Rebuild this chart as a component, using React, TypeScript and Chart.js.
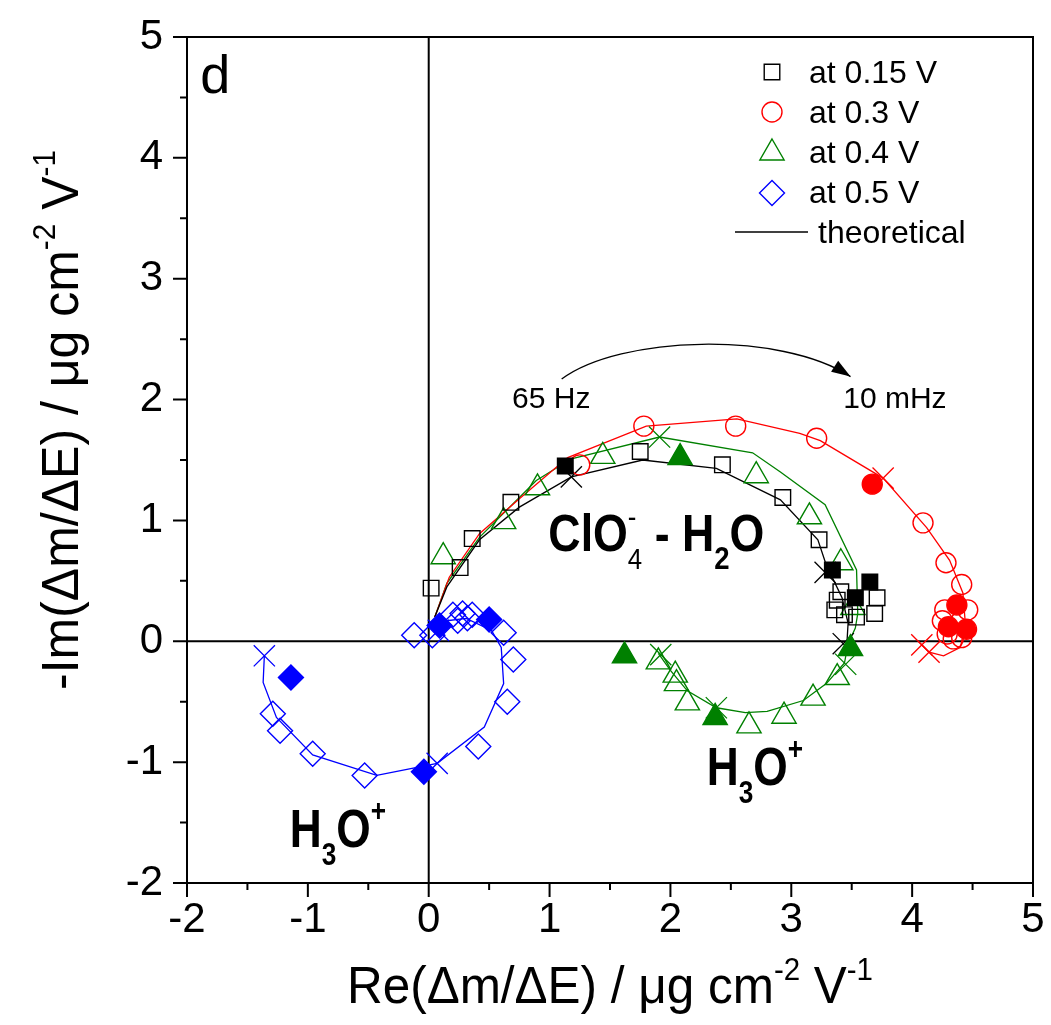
import React, { useEffect, useRef } from 'react';
import { Chart, registerables } from 'chart.js';
import { drawPoint } from 'chart.js/helpers';

Chart.register(...registerables);

// ---------------- data ----------------
const xTicks = [-2, -1, 0, 1, 2, 3, 4, 5];
const yTicks = [-2, -1, 0, 1, 2, 3, 4, 5];
const xMinor = [-1.5, -0.5, 0.5, 1.5, 2.5, 3.5, 4.5];
const yMinor = [-1.5, -0.5, 0.5, 1.5, 2.5, 3.5, 4.5];

const legendLabels = ['at 0.15 V', 'at 0.3 V', 'at 0.4 V', 'at 0.5 V', 'theoretical'];

// at 0.15 V (black squares)
const v015Open: number[][] = [[0.02, 0.44], [0.26, 0.61], [0.36, 0.85], [0.68, 1.15], [1.75, 1.57], [2.43, 1.46], [2.93, 1.19], [3.23, 0.84], [3.41, 0.41], [3.38, 0.34], [3.36, 0.26], [3.44, 0.22], [3.54, 0.2], [3.71, 0.36], [3.69, 0.23]];
const v015Filled: number[][] = [[1.13, 1.45], [3.34, 0.59], [3.53, 0.36], [3.65, 0.49]];
const v015Theory: number[][] = [[0.05, 0.2], [0.15, 0.45], [0.42, 0.84], [0.75, 1.11], [1.18, 1.36], [1.77, 1.5], [2.38, 1.43], [2.91, 1.17], [3.22, 0.84], [3.29, 0.63], [3.42, 0.36], [3.47, 0.15], [3.46, -0.02]];
const v015Cross: number[][] = [[1.18, 1.36], [3.28, 0.57], [3.43, -0.02]];

// at 0.3 V (red circles)
const v03Open: number[][] = [[1.25, 1.46], [1.78, 1.78], [2.54, 1.78], [3.21, 1.68], [4.09, 0.98], [4.28, 0.65], [4.41, 0.47], [4.46, 0.26], [4.27, 0.26], [4.25, 0.17], [4.29, 0.06], [4.34, 0.02], [4.41, 0.03]];
const v03Filled: number[][] = [[3.67, 1.3], [4.37, 0.3], [4.3, 0.12], [4.45, 0.1]];
const v03Theory: number[][] = [[0.05, 0.2], [0.17, 0.53], [0.42, 0.89], [0.75, 1.18], [1.15, 1.52], [1.8, 1.78], [2.55, 1.84], [3.07, 1.72], [3.24, 1.66], [3.76, 1.35], [4.12, 0.94], [4.31, 0.67], [4.42, 0.4], [4.44, 0.15], [4.4, -0.05], [4.26, -0.12], [4.14, -0.09], [4.08, -0.03]];
const v03Cross: number[][] = [[3.76, 1.35], [4.08, -0.03], [4.14, -0.09]];

// at 0.4 V (green triangles)
const v04Open: number[][] = [[0.12, 0.7], [0.62, 0.99], [0.9, 1.27], [1.44, 1.53], [2.71, 1.37], [3.15, 1.03], [3.41, 0.65], [3.51, 0.28], [1.9, -0.17], [2.04, -0.28], [2.05, -0.35], [2.14, -0.51], [2.65, -0.7], [2.94, -0.62], [3.18, -0.47], [3.38, -0.3]];
const v04Filled: number[][] = [[2.08, 1.52], [1.62, -0.12], [2.37, -0.63], [3.49, -0.06]];
const v04Theory: number[][] = [[0.05, 0.2], [0.15, 0.48], [0.42, 0.86], [0.89, 1.33], [1.18, 1.51], [1.91, 1.69], [2.68, 1.56], [2.91, 1.4], [3.28, 1.13], [3.54, 0.59], [3.55, 0.23], [3.53, 0.11], [3.47, -0.02], [3.44, -0.18], [3.29, -0.35], [3.1, -0.49], [2.8, -0.58], [2.62, -0.59], [2.38, -0.55], [2.14, -0.41], [2.0, -0.24], [1.9, -0.1]];
const v04Cross: number[][] = [[1.91, 1.69], [3.45, -0.19], [2.38, -0.55], [1.92, -0.11]];

// at 0.5 V (blue diamonds)
const v05Open: number[][] = [[-1.29, -0.6], [-1.23, -0.74], [-0.96, -0.93], [-0.53, -1.11], [0.41, -0.87], [0.65, -0.5], [0.7, -0.15], [0.62, 0.07], [0.36, 0.22], [0.28, 0.23], [0.2, 0.22], [-0.12, 0.05], [0.03, 0.05], [0.24, 0.17], [0.32, 0.19]];
const v05Filled: number[][] = [[-1.14, -0.3], [-0.04, -1.08], [0.5, 0.18], [0.09, 0.13]];
const v05Theory: number[][] = [[0.05, 0.12], [0.15, 0.17], [0.31, 0.19], [0.52, 0.09], [0.6, -0.05], [0.62, -0.35], [0.46, -0.71], [0.07, -1.01], [-0.43, -1.11], [-0.96, -0.94], [-1.26, -0.63], [-1.37, -0.34], [-1.36, -0.12]];
const v05Cross: number[][] = [[-1.36, -0.12], [0.07, -1.01], [0.08, 0.09]];

// annotation anchors (data coordinates)
const arrowPath: number[][] = [[1.1, 2.17], [1.58, 2.53], [2.91, 2.57], [3.49, 2.19]];
const labelD = [-1.89, 4.54];
const label65 = [0.69, 1.93];
const label10 = [3.43, 1.93];
const labelClO4 = [0.99, 0.75];
const labelH3ORight = [2.3, -1.19];
const labelH3OLeft = [-1.15, -1.7];

// ---------------- styling helpers ----------------
const FONT = '"Liberation Sans", Arial, Helvetica, sans-serif';
const BLACK = '#000000';
const RED = '#ff0000';
const GREEN = '#008000';
const BLUE = '#0000ff';

const pts = (a: number[][]) => a.map(([x, y]) => ({ x, y }));

function markerSet(data: number[][], style: string, radius: number, color: string, filled: boolean) {
  return {
    data: pts(data),
    showLine: false,
    pointStyle: style,
    pointRadius: radius,
    pointHoverRadius: radius,
    pointBorderWidth: 1.4,
    pointBorderColor: color,
    pointBackgroundColor: filled ? color : 'rgba(0,0,0,0)',
    borderColor: color,
    backgroundColor: filled ? color : 'rgba(0,0,0,0)',
  };
}
function lineSet(data: number[][], color: string) {
  return {
    data: pts(data),
    showLine: true,
    pointRadius: 0,
    pointHoverRadius: 0,
    borderColor: color,
    borderWidth: 1.3,
    tension: 0,
    fill: false,
  };
}
function crossSet(data: number[][], color: string) {
  return {
    data: pts(data),
    showLine: false,
    pointStyle: 'crossRot',
    pointRadius: 15,
    pointHoverRadius: 15,
    pointBorderWidth: 1.3,
    pointBorderColor: color,
    borderColor: color,
  };
}

type Run = { t: string; s: number; b?: boolean; dy?: number; hold?: boolean };
const fontOf = (r: Run) => `${r.b ? 'bold ' : ''}${r.s}px ${FONT}`;
function runsWidth(ctx: CanvasRenderingContext2D, runs: Run[]) {
  let w = 0;
  for (const r of runs) {
    ctx.font = fontOf(r);
    if (!r.hold) w += ctx.measureText(r.t).width;
  }
  return w;
}
function drawRuns(ctx: CanvasRenderingContext2D, runs: Run[], x: number, y: number, sx: number, rot = 0) {
  ctx.save();
  ctx.translate(x, y);
  if (rot) ctx.rotate(rot);
  ctx.scale(sx, 1);
  ctx.textAlign = 'left';
  ctx.textBaseline = 'alphabetic';
  ctx.fillStyle = '#000';
  let cx = 0;
  for (const r of runs) {
    ctx.font = fontOf(r);
    ctx.fillText(r.t, cx, r.dy || 0);
    if (!r.hold) cx += ctx.measureText(r.t).width;
  }
  ctx.restore();
}

const xTitleRuns: Run[] = [{ t: 'Re(\u0394m/\u0394E) / \u03bcg cm', s: 52 }, { t: '-2', s: 31, dy: -23 }, { t: ' V', s: 52 }, { t: '-1', s: 31, dy: -23 }];
const yTitleRuns: Run[] = [{ t: '-Im(\u0394m/\u0394E) / \u03bcg cm', s: 52 }, { t: '-2', s: 31, dy: -23 }, { t: ' V', s: 52 }, { t: '-1', s: 31, dy: -23 }];
const clo4Runs: Run[] = [{ t: 'ClO', s: 52, b: true }, { t: '-', s: 30, dy: -24, hold: true }, { t: '4', s: 30, dy: 18 }, { t: ' - H', s: 52, b: true }, { t: '2', s: 32, b: true, dy: 18 }, { t: 'O', s: 52, b: true }];
const h3oRuns: Run[] = [{ t: 'H', s: 54, b: true }, { t: '3', s: 32, b: true, dy: 18 }, { t: 'O', s: 54, b: true }, { t: '+', s: 32, b: true, dy: -26 }];

const overlay = {
  id: 'overlay',
  beforeDatasetsDraw(chart: any) {
    const { ctx, chartArea: a, scales } = chart;
    const x0 = scales.x.getPixelForValue(0);
    const y0 = scales.y.getPixelForValue(0);
    ctx.save();
    ctx.strokeStyle = '#000';
    ctx.lineWidth = 2;
    ctx.beginPath();
    ctx.moveTo(x0, a.top);
    ctx.lineTo(x0, a.bottom);
    ctx.moveTo(a.left, y0);
    ctx.lineTo(a.right, y0);
    ctx.stroke();
    ctx.restore();
  },
  afterDraw(chart: any) {
    const { ctx, chartArea: a, scales } = chart;
    const sx = scales.x, sy = scales.y;
    const px = (v: number) => sx.getPixelForValue(v);
    const py = (v: number) => sy.getPixelForValue(v);
    ctx.save();
    // frame
    ctx.strokeStyle = '#000';
    ctx.lineWidth = 2;
    ctx.strokeRect(a.left, a.top, a.right - a.left, a.bottom - a.top);
    // ticks
    ctx.beginPath();
    for (const v of yTicks) { ctx.moveTo(a.left, py(v)); ctx.lineTo(a.left - 14, py(v)); }
    for (const v of yMinor) { ctx.moveTo(a.left, py(v)); ctx.lineTo(a.left - 7, py(v)); }
    for (const v of xTicks) { ctx.moveTo(px(v), a.bottom); ctx.lineTo(px(v), a.bottom + 14); }
    for (const v of xMinor) { ctx.moveTo(px(v), a.bottom); ctx.lineTo(px(v), a.bottom + 7); }
    ctx.stroke();

    // axis titles
    const xw = runsWidth(ctx, xTitleRuns);
    const xTarget = 526;
    const xc = (a.left + a.right) / 2;
    drawRuns(ctx, xTitleRuns, xc - xTarget / 2, 1003, xTarget / xw);
    const yw = runsWidth(ctx, yTitleRuns);
    const yTarget = 540;
    drawRuns(ctx, yTitleRuns, 78, 690, yTarget / yw, -Math.PI / 2);

    // panel letter and text labels
    ctx.fillStyle = '#000';
    ctx.textAlign = 'left';
    ctx.textBaseline = 'alphabetic';
    ctx.font = `54px ${FONT}`;
    ctx.fillText('d', px(labelD[0]), py(labelD[1]));
    ctx.font = `30px ${FONT}`;
    ctx.fillText('65 Hz', px(label65[0]), py(label65[1]));
    ctx.fillText('10 mHz', px(label10[0]), py(label10[1]));
    drawRuns(ctx, clo4Runs, px(labelClO4[0]), py(labelClO4[1]), 0.86);
    drawRuns(ctx, h3oRuns, px(labelH3ORight[0]), py(labelH3ORight[1]), 0.82);
    drawRuns(ctx, h3oRuns, px(labelH3OLeft[0]), py(labelH3OLeft[1]), 0.82);

    // arrow
    const P = arrowPath.map(([u, v]) => [px(u), py(v)]);
    ctx.strokeStyle = '#000';
    ctx.lineWidth = 1.3;
    ctx.beginPath();
    ctx.moveTo(P[0][0], P[0][1]);
    ctx.bezierCurveTo(P[1][0], P[1][1], P[2][0], P[2][1], P[3][0], P[3][1]);
    ctx.stroke();
    const ang = Math.atan2(P[3][1] - P[2][1], P[3][0] - P[2][0]);
    const L = 19, W = 6.5;
    ctx.fillStyle = '#000';
    ctx.beginPath();
    ctx.moveTo(P[3][0], P[3][1]);
    ctx.lineTo(P[3][0] - L * Math.cos(ang) + W * Math.sin(ang), P[3][1] - L * Math.sin(ang) - W * Math.cos(ang));
    ctx.lineTo(P[3][0] - L * Math.cos(ang) - W * Math.sin(ang), P[3][1] - L * Math.sin(ang) + W * Math.cos(ang));
    ctx.closePath();
    ctx.fill();

    // legend
    const mx = a.right - 261;
    const tx = a.right - 224;
    const rows = [
      { style: 'rect', r: 11, c: BLACK, y: a.top + 35 },
      { style: 'circle', r: 10, c: RED, y: a.top + 75 },
      { style: 'triangle', r: 14, c: GREEN, y: a.top + 116 },
      { style: 'rectRot', r: 12.5, c: BLUE, y: a.top + 156 },
    ];
    rows.forEach((row, i) => {
      ctx.strokeStyle = row.c;
      ctx.fillStyle = 'rgba(0,0,0,0)';
      ctx.lineWidth = 1.4;
      drawPoint(ctx, { pointStyle: row.style, rotation: 0, radius: row.r, borderWidth: 1.4 } as any, mx, row.y);
      ctx.fillStyle = '#000';
      ctx.font = `32px ${FONT}`;
      ctx.fillText(legendLabels[i], tx, a.top + 46 + 40 * i);
    });
    ctx.strokeStyle = '#000';
    ctx.lineWidth = 1.3;
    ctx.beginPath();
    ctx.moveTo(a.right - 298, a.top + 195);
    ctx.lineTo(a.right - 225, a.top + 195);
    ctx.stroke();
    ctx.fillStyle = '#000';
    ctx.font = `32px ${FONT}`;
    ctx.fillText(legendLabels[4], a.right - 215, a.top + 206);
    ctx.restore();
  },
};

export default function App() {
  const ref = useRef<HTMLCanvasElement>(null);
  useEffect(() => {
    const canvas = ref.current;
    if (!canvas) return;
    const chart = new Chart(canvas, {
      type: 'scatter',
      data: {
        datasets: [
          markerSet(v015Filled, 'rect', 11, BLACK, true),
          markerSet(v015Open, 'rect', 11, BLACK, false),
          markerSet(v03Filled, 'circle', 10, RED, true),
          markerSet(v03Open, 'circle', 10, RED, false),
          markerSet(v04Filled, 'triangle', 14, GREEN, true),
          markerSet(v04Open, 'triangle', 14, GREEN, false),
          markerSet(v05Filled, 'rectRot', 12.5, BLUE, true),
          markerSet(v05Open, 'rectRot', 12.5, BLUE, false),
          crossSet(v015Cross, BLACK),
          crossSet(v03Cross, RED),
          crossSet(v04Cross, GREEN),
          crossSet(v05Cross, BLUE),
          lineSet(v015Theory, BLACK),
          lineSet(v03Theory, RED),
          lineSet(v04Theory, GREEN),
          lineSet(v05Theory, BLUE),
        ] as any,
      },
      options: {
        animation: false,
        responsive: false,
        events: [],
        layout: { padding: { left: 0, right: 18, top: 37, bottom: 0 } },
        plugins: { legend: { display: false }, tooltip: { enabled: false } },
        scales: {
          x: {
            type: 'linear',
            min: -2,
            max: 5,
            position: 'bottom',
            grid: { display: false, drawTicks: false },
            border: { display: false },
            ticks: { stepSize: 1, color: '#000', padding: 12, font: { size: 42, family: FONT } },
            afterFit: (s: any) => {
              s.height = 142;
              s.paddingLeft = 0;
              s.paddingRight = 0;
              s.paddingTop = 0;
              s.paddingBottom = 0;
            },
          },
          y: {
            type: 'linear',
            min: -2,
            max: 5,
            position: 'left',
            grid: { display: false, drawTicks: false },
            border: { display: false },
            ticks: { stepSize: 1, color: '#000', padding: 24, font: { size: 42, family: FONT } },
            afterFit: (s: any) => {
              s.width = 187;
              s.paddingLeft = 0;
              s.paddingRight = 0;
              s.paddingTop = 0;
              s.paddingBottom = 0;
            },
          },
        },
      } as any,
      plugins: [overlay],
    });
    return () => chart.destroy();
  }, []);
  return (
    <canvas
      ref={ref}
      width={1051}
      height={1025}
      style={{ position: 'absolute', left: 0, top: 0, width: 1051, height: 1025 }}
    />
  );
}
